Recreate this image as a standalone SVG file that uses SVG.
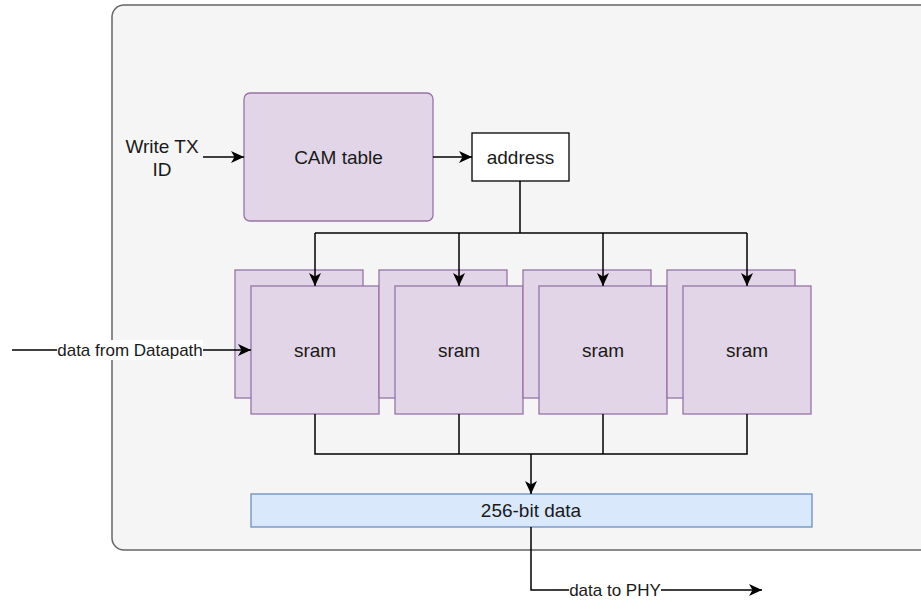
<svg xmlns="http://www.w3.org/2000/svg" width="921" height="600" viewBox="0 0 921 600">
<style>
.t{font-family:"Liberation Sans",Arial,sans-serif;font-size:19px;fill:#1a1a1a;text-anchor:middle;dominant-baseline:central}
.l{font-family:"Liberation Sans",Arial,sans-serif;font-size:17px;fill:#1a1a1a;text-anchor:middle;dominant-baseline:central}
.p{fill:#e1d5e7;stroke:#9673a6;stroke-width:1.3}
.c{fill:none;stroke:#000;stroke-width:1.5}
</style>
<defs>
<marker id="a" markerUnits="userSpaceOnUse" markerWidth="14" markerHeight="14" viewBox="0 0 14 14" refX="13" refY="7" orient="auto">
<path d="M0,1 L13,7 L0,13 L3.5,7 Z" fill="#000"/>
</marker>
</defs>
<rect width="921" height="600" fill="#fff"/>
<g id="container">
<rect x="112" y="5" width="830" height="545" rx="12" fill="#f5f5f5" stroke="#666" stroke-width="1.5"/>
</g>
<g id="cam">
<rect x="244" y="93" width="189" height="128" rx="6" class="p"/>
<text class="t" x="338.5" y="157">CAM table</text>
</g>
<g id="address">
<rect x="472" y="133" width="97" height="48" fill="#fff" stroke="#000" stroke-width="1.3"/>
<text class="t" x="520.5" y="157">address</text>
</g>
<g id="sram1">
<rect x="235" y="270" width="128" height="128" class="p"/>
<rect x="251" y="286" width="128" height="128" class="p"/>
<text class="t" x="315" y="350">sram</text>
</g>
<g id="sram2">
<rect x="379" y="270" width="128" height="128" class="p"/>
<rect x="395" y="286" width="128" height="128" class="p"/>
<text class="t" x="459" y="350">sram</text>
</g>
<g id="sram3">
<rect x="523" y="270" width="128" height="128" class="p"/>
<rect x="539" y="286" width="128" height="128" class="p"/>
<text class="t" x="603" y="350">sram</text>
</g>
<g id="sram4">
<rect x="667" y="270" width="128" height="128" class="p"/>
<rect x="683" y="286" width="128" height="128" class="p"/>
<text class="t" x="747" y="350">sram</text>
</g>
<g id="data256">
<rect x="251" y="494" width="561" height="33" fill="#dae8fc" stroke="#6c8ebf" stroke-width="1.3"/>
<text class="t" x="531" y="510.5">256-bit data</text>
</g>
<g id="writetx">
<text class="t" x="162" y="146">Write TX</text>
<text class="t" x="162" y="169">ID</text>
</g>
<g id="connectors">
<path class="c" d="M203,157 H244" marker-end="url(#a)"/>
<path class="c" d="M433,157 H472" marker-end="url(#a)"/>
<path class="c" d="M520,181 V233"/>
<path class="c" d="M315,233 H747"/>
<path class="c" d="M315,233 V286" marker-end="url(#a)"/>
<path class="c" d="M459,233 V286" marker-end="url(#a)"/>
<path class="c" d="M603,233 V286" marker-end="url(#a)"/>
<path class="c" d="M747,233 V286" marker-end="url(#a)"/>
<path class="c" d="M315,414 V454 H747 V414"/>
<path class="c" d="M459,414 V454"/>
<path class="c" d="M603,414 V454"/>
<path class="c" d="M531,454 V494" marker-end="url(#a)"/>
<path class="c" d="M12,350 H251" marker-end="url(#a)"/>
<rect x="57" y="340" width="146" height="20" fill="#fff"/>
<text class="l" x="130" y="350">data from Datapath</text>
<path class="c" d="M531,527 V590 H762" marker-end="url(#a)"/>
<rect x="569" y="580" width="92" height="20" fill="#fff"/>
<text class="l" x="615" y="590">data to PHY</text>
</g>
</svg>
